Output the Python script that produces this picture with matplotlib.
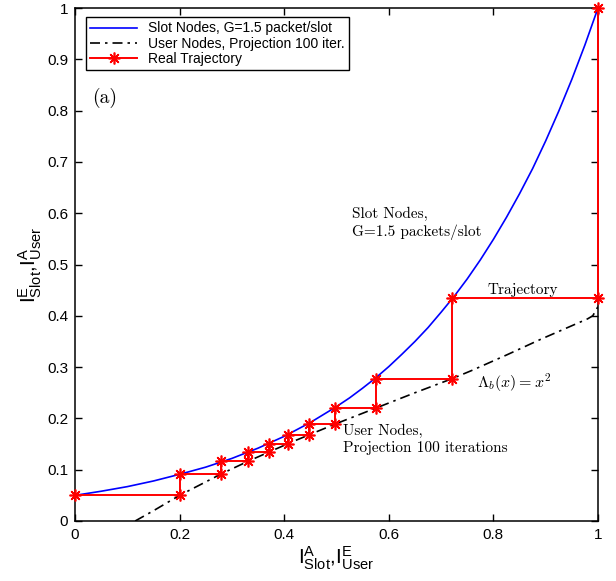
import matplotlib
matplotlib.use("Agg")
import matplotlib.pyplot as plt

plt.rcParams['font.family'] = ['Liberation Sans', 'DejaVu Sans']
plt.rcParams['mathtext.fontset'] = 'cm'

# slot node EXIT curve
slot_x = [0, 0.05, 0.1, 0.15, 0.2, 0.25, 0.3, 0.35, 0.4, 0.45, 0.5,
          0.525, 0.55, 0.575, 0.6, 0.625, 0.65, 0.675, 0.7, 0.725, 0.75,
          0.775, 0.8, 0.825, 0.85, 0.875, 0.9, 0.925, 0.95, 0.975, 1.0]
slot_y = [0.050, 0.058, 0.067, 0.078, 0.091, 0.105, 0.122, 0.142, 0.165, 0.192, 0.223,
          0.240, 0.259, 0.279, 0.301, 0.325, 0.350, 0.377, 0.407, 0.438, 0.472,
          0.509, 0.549, 0.592, 0.638, 0.687, 0.741, 0.799, 0.861, 0.928, 1.0]

# user node curve (projection, 100 iterations)
user_x = [0.115, 0.15, 0.2, 0.28, 0.33, 0.37, 0.41, 0.45, 0.5, 0.575, 0.65,
          0.72, 0.76, 0.826, 0.89, 0.953, 0.98, 0.99, 1.0]
user_y = [0.0, 0.02, 0.05, 0.092, 0.116, 0.134, 0.152, 0.169, 0.19, 0.22, 0.25,
          0.277, 0.294, 0.324, 0.354, 0.382, 0.394, 0.40, 0.418]

# real decoding trajectory (staircase)
traj_x = [0, 0.2, 0.2, 0.28, 0.28, 0.33, 0.33, 0.37, 0.37, 0.408, 0.408,
          0.447, 0.447, 0.497, 0.497, 0.575, 0.575, 0.72, 0.72, 1.0, 1.0]
traj_y = [0.05, 0.05, 0.092, 0.092, 0.116, 0.116, 0.134, 0.134, 0.15, 0.15, 0.168,
          0.168, 0.19, 0.19, 0.22, 0.22, 0.277, 0.277, 0.434, 0.434, 1.0]

ticks_x = [0, 0.2, 0.4, 0.6, 0.8, 1]
ticks_y = [0, 0.1, 0.2, 0.3, 0.4, 0.5, 0.6, 0.7, 0.8, 0.9, 1]
tick_lbl_x = ['0', '0.2', '0.4', '0.6', '0.8', '1']
tick_lbl_y = ['0', '0.1', '0.2', '0.3', '0.4', '0.5', '0.6', '0.7', '0.8', '0.9', '1']

fig = plt.figure(figsize=(6.16, 5.81), dpi=100)
ax = fig.add_axes([75/616, 60/581, 523/616, 513/581])

ax.plot(slot_x, slot_y, color='#0000ff', lw=1.2, label='Slot Nodes, G=1.5 packet/slot')
ax.plot(user_x, user_y, color='black', lw=1.2, dashes=[6, 3, 1.5, 3],
        label='User Nodes, Projection 100 iter.')
ax.plot(traj_x, traj_y, color='red', lw=1.4, marker=(8, 2, 0), markersize=8.5,
        markeredgewidth=1.2, clip_on=False, zorder=5, label='Real Trajectory')

ax.set_xlim(0, 1)
ax.set_ylim(0, 1)
ax.set_xticks(ticks_x)
ax.set_xticklabels(tick_lbl_x)
ax.set_yticks(ticks_y)
ax.set_yticklabels(tick_lbl_y)
ax.tick_params(direction='in', length=5, width=1, top=True, right=True,
               labelsize=11, pad=5)
for s in ax.spines.values():
    s.set_linewidth(1.1)

ax.set_xlabel(r'$\mathregular{I^A_{Slot}{,}I^E_{User}}$', fontsize=15, labelpad=2)
ax.set_ylabel(r'$\mathregular{I^E_{Slot}{,}I^A_{User}}$', fontsize=15, labelpad=2)

leg = ax.legend(loc='upper left', bbox_to_anchor=(0.021, 0.982), borderaxespad=0,
                fontsize=10, handlelength=3.4, labelspacing=0.1, borderpad=0.3,
                fancybox=False, framealpha=1, edgecolor='black', numpoints=1)
leg.get_frame().set_linewidth(1.0)

cm = 'cmr10'
ax.text(0.033, 0.825, '(a)', fontfamily=cm, fontsize=14, va='center')
ax.text(0.529, 0.612, 'Slot Nodes,\nG=1.5 packets/slot', fontfamily=cm,
        fontsize=11, va='top', linespacing=1.3)
ax.text(0.788, 0.443, 'Trajectory', fontfamily=cm, fontsize=11, va='baseline')
ax.text(0.768, 0.269, r'$\Lambda_b(x) = x^2$', fontsize=11.5, va='center')
ax.text(0.513, 0.19, 'User Nodes,\nProjection 100 iterations', fontfamily=cm,
        fontsize=11, va='top', linespacing=1.3)

fig.savefig('out.png', dpi=100)
